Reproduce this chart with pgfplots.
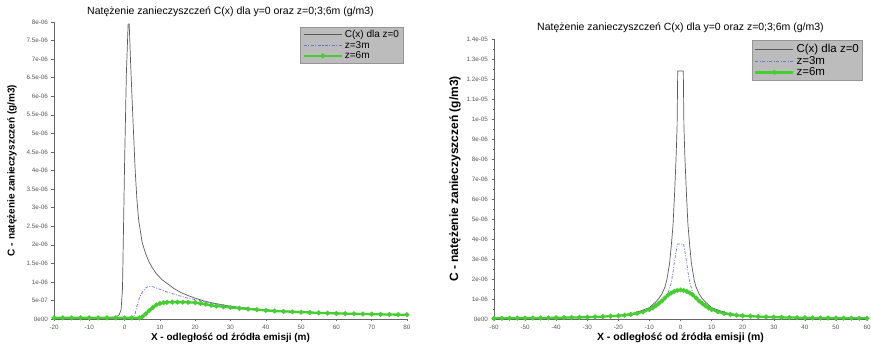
\documentclass[border=0pt]{standalone}
\usepackage{pgfplots}
\pgfplotsset{compat=1.18}
\usepackage{fontspec}
\setmainfont{Liberation Sans}
\definecolor{cblack}{RGB}{90,90,90}
\definecolor{cblue}{RGB}{110,110,225}
\definecolor{cgreen}{RGB}{70,205,50}
\definecolor{legfill}{RGB}{188,188,188}
\definecolor{legdraw}{RGB}{150,150,150}
\pgfplotsset{
  common/.style={
    scale only axis,
    anchor=south west,
    axis x line=bottom, axis y line=left,
    axis line style={-, draw=gray!80!black, line width=0.5pt},
    tick align=outside,
    major tick length=2.5pt, minor tick length=1.5pt,
    every tick/.style={gray!80!black, line width=0.4pt},
    tick label style={font=\fontsize{6.3}{7}\selectfont, text=gray!70!black},
    /pgf/number format/assume math mode=true,
    scaled y ticks=false,
    minor x tick num=1,
    title style={font=\fontsize{10.5}{12}\selectfont, at={(0.5,1)}, anchor=center},
    xlabel style={at={(0.5,0)}, anchor=center, yshift=-19pt},
    ylabel style={at={(0,0.5)}, anchor=center},
    xlabel={X - odległość od źródła emisji (m)},
    ylabel={C - natężenie zanieczyszczeń (g/m3)},
    title={Natężenie zanieczyszczeń C(x) dla y=0 oraz z=0;3;6m (g/m3)},
    legend cell align=left,
    legend style={fill=legfill, draw=legdraw, line width=0.8pt,
      anchor=north east, inner xsep=2pt, inner ysep=1pt},
  },
  c0/.style={color=cblack, line width=0.7pt, mark=none},
  c3/.style={color=cblue, line width=0.7pt, dash pattern=on 3pt off 1.5pt on 1pt off 1.5pt, mark=none},
  c6/.style={color=cgreen, line width=2.3pt, mark=*, mark size=1.1pt, mark options={solid}},
}
\begin{document}
\begin{tikzpicture}
\path[use as bounding box] (0,0) rectangle (871pt,350pt);
% ---------------- left chart ----------------
\begin{axis}[common,
  at={(54pt,31pt)}, width=353pt, height=297pt,
  xmin=-20, xmax=80, ymin=0, ymax=8e-6,
  xtick={-20,-10,0,10,20,30,40,50,60,70,80},
  ytick={0,0.5e-6,1e-6,1.5e-6,2e-6,2.5e-6,3e-6,3.5e-6,4e-6,4.5e-6,5e-6,5.5e-6,6e-6,6.5e-6,7e-6,7.5e-6,8e-6},
  yticklabels={0e00,5e-07,1e-06,1.5e-06,2e-06,2.5e-06,3e-06,3.5e-06,4e-06,4.5e-06,5e-06,5.5e-06,6e-06,6.5e-06,7e-06,7.5e-06,8e-06},
  title style={yshift=4pt},
  xlabel style={font=\bfseries\fontsize{10}{11}\selectfont},
  ylabel style={font=\bfseries\fontsize{10}{11}\selectfont, yshift=42pt},
  legend style={at={(0.99,0.983)}, font=\fontsize{10}{10}\selectfont, row sep=-2pt},
  legend image code/.code={\draw[mark repeat=2,mark phase=2,#1] plot coordinates {(0pt,0pt) (19pt,0pt) (38pt,0pt)};},
]
\addplot[c0] coordinates {
(-20,0.02e-6) (-10,0.02e-6) (-5,0.03e-6) (-3,0.05e-6) (-2,0.08e-6) (-1.5,0.12e-6) (-1,0.25e-6)
(-0.6,0.8e-6) (-0.3,2.5e-6) (0,4.2e-6) (0.5,6.6e-6) (1,7.95e-6) (1.3,7.95e-6) (1.7,6.9e-6)
(2.4,5.3e-6) (3,4.0e-6) (3.5,3.2e-6) (4,2.65e-6) (5,2.05e-6) (6,1.75e-6) (7,1.52e-6) (8,1.36e-6)
(9,1.22e-6) (10.6,1.06e-6) (12,0.96e-6) (14,0.82e-6) (16,0.71e-6) (18,0.63e-6) (20,0.56e-6)
(22.7,0.48e-6) (25,0.43e-6) (30,0.34e-6) (35,0.29e-6) (40,0.245e-6) (45,0.215e-6) (50,0.19e-6)
(55,0.17e-6) (60,0.155e-6) (70,0.13e-6) (80,0.115e-6)
};
\addlegendentry{C(x) dla z=0}
\addplot[c3] coordinates {
(-20,0) (2,0) (2.3,0.02e-6) (3,0.15e-6) (3.5,0.35e-6) (4.2,0.57e-6) (5,0.72e-6) (6,0.84e-6)
(6.8,0.88e-6) (8,0.87e-6) (10,0.8e-6) (11.6,0.74e-6) (14,0.67e-6) (16,0.61e-6) (18,0.56e-6)
(20,0.52e-6) (22.7,0.47e-6) (25,0.43e-6) (30,0.34e-6) (35,0.29e-6) (40,0.245e-6) (45,0.215e-6)
(50,0.19e-6) (55,0.17e-6) (60,0.155e-6) (70,0.13e-6) (80,0.115e-6)
};
\addlegendentry{z=3m}
\addplot[c6] coordinates {
(-20,0.03e-6) (-17.5,0.03e-6) (-15,0.03e-6) (-12.5,0.03e-6) (-10,0.03e-6) (-7.5,0.03e-6) (-5,0.03e-6)
(-2.5,0.03e-6) (0,0.03e-6) (2,0.03e-6) (4.2,0.03e-6) (5,0.06e-6)
(6,0.14e-6) (7,0.23e-6) (8,0.31e-6) (9,0.38e-6) (10,0.42e-6) (11,0.44e-6) (12,0.45e-6) (13.5,0.455e-6) (15,0.455e-6)
(16.5,0.453e-6) (18,0.45e-6) (20,0.44e-6) (21.5,0.42e-6) (23,0.4e-6) (24.5,0.37e-6) (26,0.35e-6) (28,0.33e-6) (30,0.31e-6)
(32.5,0.29e-6) (35,0.27e-6) (37.5,0.25e-6) (40,0.23e-6)
(42.5,0.215e-6) (45,0.205e-6) (47.5,0.195e-6) (50,0.185e-6) (52.5,0.175e-6) (55,0.165e-6) (57.5,0.157e-6) (60,0.15e-6)
(62.5,0.145e-6) (65,0.14e-6) (67.5,0.135e-6) (70,0.13e-6) (72.5,0.125e-6) (75,0.12e-6) (77.5,0.117e-6) (80,0.115e-6)
};
\addlegendentry{z=6m}
\end{axis}
% ---------------- right chart ----------------
\begin{axis}[common,
  at={(494pt,31pt)}, width=373pt, height=280pt,
  xmin=-60, xmax=60, ymin=0, ymax=1.4e-5,
  xtick={-60,-50,-40,-30,-20,-10,0,10,20,30,40,50,60},
  ytick={0,1e-6,2e-6,3e-6,4e-6,5e-6,6e-6,7e-6,8e-6,9e-6,1e-5,1.1e-5,1.2e-5,1.3e-5,1.4e-5},
  yticklabels={0e00,1e-06,2e-06,3e-06,4e-06,5e-06,6e-06,7e-06,8e-06,9e-06,1e-05,1.1e-05,1.2e-05,1.3e-05,1.4e-05},
  minor y tick num=1,
  title style={yshift=5.5pt},
  xlabel style={font=\bfseries\fontsize{10.5}{11}\selectfont},
  ylabel style={font=\bfseries\fontsize{12}{13}\selectfont, yshift=39pt},
  legend style={at={(0.99,0.995)}, font=\fontsize{11.5}{11}\selectfont, row sep=-2pt, inner ysep=1.5pt},
  legend image code/.code={\draw[mark repeat=2,mark phase=2,#1] plot coordinates {(0pt,0pt) (19pt,0pt) (38pt,0pt)};},
]
\addplot[c0] coordinates {
(-60,0.035e-6) (-50,0.045e-6) (-40,0.06e-6) (-30,0.09e-6) (-25,0.12e-6) (-20,0.17e-6)
(-15,0.3e-6) (-12,0.45e-6) (-10,0.57e-6) (-8,0.85e-6) (-7,1.02e-6) (-6,1.25e-6) (-5,1.6e-6) (-4.4,1.95e-6)
(-3.5,2.8e-6) (-3,3.6e-6) (-2.4,4.7e-6) (-1.9,6.3e-6) (-1.45,7.95e-6) (-1.1,9.6e-6) (-0.9,12.4e-6)
(0.9,12.4e-6) (1.1,9.6e-6) (1.45,7.95e-6) (1.9,6.3e-6) (2.4,4.7e-6) (3,3.6e-6) (3.5,2.8e-6)
(4.4,1.95e-6) (5,1.6e-6) (6,1.25e-6) (7,1.02e-6) (8,0.85e-6) (10,0.57e-6) (12,0.45e-6) (15,0.3e-6)
(20,0.17e-6) (25,0.12e-6) (30,0.09e-6) (40,0.06e-6) (50,0.045e-6) (60,0.035e-6)
};
\addlegendentry{C(x) dla z=0}
\addplot[c3] coordinates {
(-60,0.03e-6) (-40,0.055e-6) (-30,0.085e-6) (-20,0.15e-6) (-15,0.27e-6) (-12,0.4e-6) (-10,0.5e-6)
(-8,0.65e-6) (-6,0.85e-6) (-5,1.0e-6) (-4,1.3e-6) (-3,1.8e-6) (-2.5,2.25e-6) (-2,2.8e-6)
(-1.5,3.3e-6) (-1,3.75e-6) (1,3.75e-6) (1.5,3.3e-6) (2,2.8e-6) (2.5,2.25e-6) (3,1.8e-6) (4,1.3e-6)
(5,1.0e-6) (6,0.85e-6) (8,0.65e-6) (10,0.5e-6) (12,0.4e-6) (15,0.27e-6) (20,0.15e-6)
(30,0.085e-6) (40,0.055e-6) (60,0.03e-6)
};
\addlegendentry{z=3m}
\addplot[c6] coordinates {
(-60,0.035e-6) (-57.5,0.037e-6) (-55,0.04e-6) (-52.5,0.042e-6) (-50,0.045e-6) (-47.5,0.047e-6) (-45,0.05e-6) (-42.5,0.055e-6)
(-40,0.06e-6) (-37.5,0.067e-6) (-35,0.075e-6) (-32.5,0.082e-6) (-30,0.09e-6) (-27.5,0.105e-6)
(-25,0.12e-6) (-22.5,0.14e-6) (-20,0.16e-6) (-18,0.19e-6) (-16,0.23e-6) (-14,0.28e-6) (-12,0.36e-6) (-10,0.47e-6)
(-9,0.56e-6) (-8,0.66e-6) (-7,0.78e-6) (-6,0.9e-6) (-5,1.05e-6) (-4,1.2e-6) (-3,1.3e-6)
(-2,1.38e-6) (-1,1.43e-6) (0,1.45e-6) (1,1.43e-6) (2,1.38e-6) (3,1.3e-6) (4,1.2e-6) (5,1.05e-6)
(6,0.9e-6) (7,0.78e-6) (8,0.66e-6) (9,0.56e-6) (10,0.47e-6) (12,0.36e-6) (14,0.28e-6) (16,0.23e-6)
(18,0.19e-6) (20,0.16e-6) (22.5,0.14e-6) (25,0.12e-6) (27.5,0.105e-6) (30,0.09e-6) (32.5,0.082e-6) (35,0.075e-6) (37.5,0.067e-6) (40,0.06e-6)
(42.5,0.055e-6) (45,0.05e-6) (47.5,0.047e-6) (50,0.045e-6) (52.5,0.042e-6) (55,0.04e-6) (57.5,0.037e-6) (60,0.035e-6)
};
\addlegendentry{z=6m}
\end{axis}
\end{tikzpicture}
\end{document}
